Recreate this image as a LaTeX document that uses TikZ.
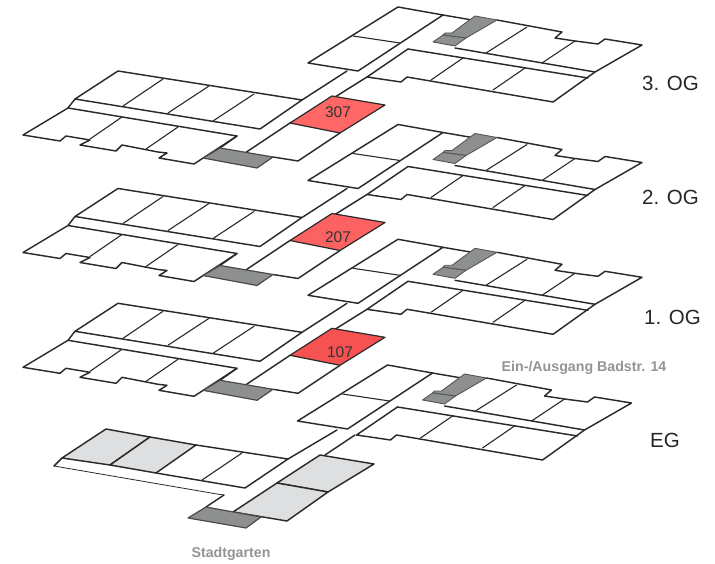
\documentclass[tikz,border=0pt]{standalone}
\usepackage{fontspec}
\setmainfont{Liberation Sans}
\definecolor{wall}{HTML}{2A2A2A}
\definecolor{stair}{HTML}{8E9090}
\definecolor{lightroom}{HTML}{DDDFE0}
\definecolor{roomA}{HTML}{FF6666}
\definecolor{roomB}{HTML}{FD6262}
\definecolor{roomC}{HTML}{F65252}
\tikzset{
  plan/.style={draw=wall,line width=1.45pt,line join=round,line cap=round},
  thinwall/.style={draw=wall,line width=1.1pt,line cap=round},
  stairs/.style={draw=wall!85,line width=1.2pt,fill=stair,line join=round},
  stairn/.style={draw=stair!60!black,line width=.9pt,fill=stair,line join=round},
  taken/.style={draw=wall,line width=1.45pt,fill=lightroom,line join=round},
  booked/.style={draw=wall,line width=1.2pt,line join=round},
  floorname/.style={font=\fontsize{20.5}{20.5}\selectfont,text=black!85,inner sep=0pt,anchor=west},
  roomno/.style={font=\fontsize{15.5}{15.5}\selectfont,text=black!80,inner sep=0pt},
  place/.style={font=\bfseries\fontsize{14.2}{14.2}\selectfont,text=black!42,inner sep=0pt}
}
% north wing, drawn in 3. OG coordinates
\newcommand{\northwing}{
  \draw[plan] (443,15) -- (398,7) -- (308,63) -- (358,71) -- (443,15);
  \draw[thinwall] (353,36) -- (400,43);
  \draw[plan] (443,15) -- (472,20);
  \draw[plan] (497,20) -- (562,32) -- (555,38) -- (575,41) -- (598,44) -- (605,39) -- (642,45) -- (595,72) -- (455,48);
  \draw[thinwall] (527,27) -- (486,53);
  \draw[thinwall] (575,41) -- (542,63);
  \draw[plan] (408,49) -- (588,78);
  \draw[plan] (408,49) -- (367,77) -- (401,82) -- (407,77) -- (553,102) -- (595,72);
  \draw[thinwall] (463,58) -- (431,80);
  \draw[thinwall] (525,68) -- (493,90);
  \draw[stairn] (475,16) -- (497,20) -- (466,38) -- (443,35) -- (445,33) -- (452,33) -- cycle;
  \draw[stairn] (443,35) -- (466,38) -- (455,46) -- (433,42) -- cycle;
}
% south-west wing and corridor of the upper floors
\newcommand{\upperwing}[1]{
  \draw[plan] (347,71) -- (302,100) -- (118,71) -- (75,99) -- (260,129) -- (302,100);
  \draw[thinwall] (163,79) -- (123,106);
  \draw[thinwall] (209,86) -- (168,113);
  \draw[thinwall] (254,94) -- (213,121);
  \draw[plan] (75,99) -- (68,108);
  \draw[plan] (367,77) -- (335,97);
  \draw[plan] (237,136) -- (68,108) -- (23,135) -- (60,141) -- (66,136) -- (90,140) -- (80,145) -- (116,151) -- (122,145) -- (158,152) -- (167,153) -- (159,158) -- (194,164) -- (237,136);
  \draw[thinwall] (122,117) -- (90,139);
  \draw[thinwall] (178,127) -- (146,149);
  \draw[plan] (237,136) -- (220,148);
  \draw[plan] (290,123) -- (245,153);
  \draw[plan] (340,133) -- (298,161) -- (273,157);
  \draw[stairs] (220,148) -- (273,157) -- (257,168) -- (203,158) -- cycle;
  \draw[booked,fill=#1] (332,96) -- (385,105) -- (340,133) -- (290,123) -- cycle;
}
\begin{document}
\begin{tikzpicture}[x=1pt,y=-1pt]
\useasboundingbox (0,0) rectangle (715,564);
% 3. OG
\northwing
\upperwing{roomA}
\node[roomno] (r307) at (338,112.5) {307};
% 2. OG
\begin{scope}[yshift=-117.5pt]
  \northwing
  \upperwing{roomB}
\end{scope}
\node[roomno] (r207) at (338,237) {207};
% 1. OG
\begin{scope}[yshift=-232.3pt]
  \northwing
  \upperwing{roomC}
\end{scope}
\node[roomno] (r107) at (340,352) {107};
% EG north wing
\begin{scope}[xshift=-10.5pt,yshift=-358pt]
  \northwing
\end{scope}
% EG south wing
\draw[taken] (106,429) -- (150,437) -- (110,465) -- (62,458) -- cycle;
\draw[taken] (150,437) -- (196,445) -- (156,473) -- (110,465) -- cycle;
\draw[plan] (196,445) -- (288,459) -- (245,488) -- (156,473);
\draw[thinwall] (242,453) -- (202,480);
\draw[plan] (288,459) -- (337,430);
\draw[plan] (325,455) -- (355,435);
\draw[plan] (62,458) -- (54,466);
\draw[thinwall,line width=.8pt] (54,466) -- (217,494) -- (224,495);
\draw[plan] (224,495) -- (206,507);
\draw[taken] (320,455) -- (374,464) -- (328,492) -- (277,483) -- cycle;
\draw[taken] (277,483) -- (328,492) -- (287,521) -- (233,512) -- cycle;
\draw[stairs] (206,507) -- (261,517) -- (246,528) -- (188,518) -- cycle;
% labels
\node[floorname] (og3) at (642,83) {3. OG};
\node[floorname] (og2) at (642,197) {2. OG};
\node[floorname] (og1) at (644,317.5) {1. OG};
\node[floorname] (eg) at (650,440) {EG};
\node[place] (ein) at (584,368) {Ein-/Ausgang Badstr. 14};
\node[place] (stadt) at (231,554) {Stadtgarten};
\end{tikzpicture}
\end{document}
